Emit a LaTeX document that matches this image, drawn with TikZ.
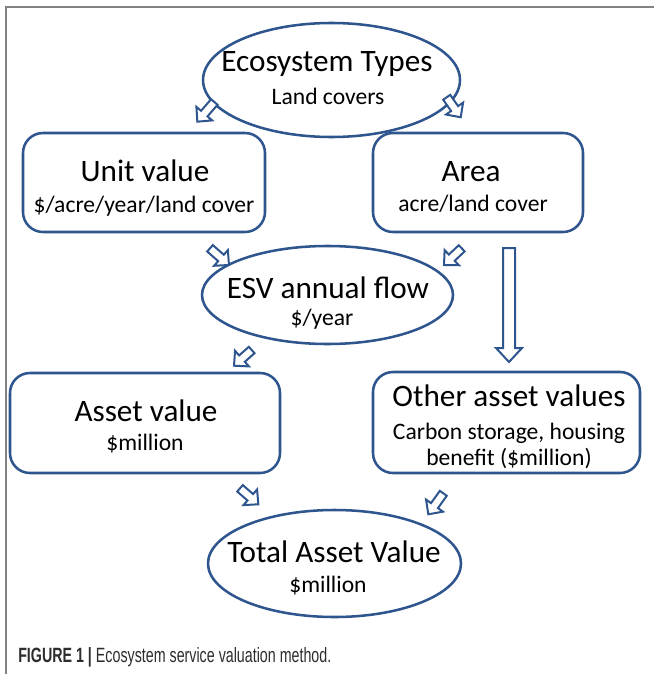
\documentclass[tikz,border=0pt]{standalone}
\usepackage{fontspec}
\setmainfont{Carlito}
\newfontfamily\capfont[FakeStretch=0.69]{Liberation Sans}
\usetikzlibrary{shapes.geometric,calc}
\definecolor{dblue}{RGB}{47,85,143}
\definecolor{framegray}{RGB}{130,130,130}
\definecolor{captxt}{RGB}{45,45,45}
\tikzset{
  shapeline/.style={draw=dblue, line width=1.9pt},
  ell/.style={shapeline, ellipse, inner sep=0pt},
  rbox/.style={shapeline, rectangle, rounded corners=15pt, inner sep=0pt},
  title/.style={anchor=base, font=\fontsize{23.4}{27}\selectfont, inner sep=0pt},
  sub/.style={anchor=base, font=\fontsize{17.7}{21}\selectfont, inner sep=0pt},
  blockarrow/.style={draw=dblue, fill=white, line width=1.5pt, line join=miter},
}
% #1 tail, #2 tip, #3 shaft half width, #4 head half width, #5 head length
\newcommand\blockarr[5]{%
  \path let \p1=($(#2)-(#1)$), \n1={atan2(\y1,\x1)}, \n2={veclen(\x1,\y1)} in
    [blockarrow, shift={(#1)}, rotate=\n1]
    (0pt,-#3) -- (\n2-#5,-#3) -- (\n2-#5,-#4) -- (\n2,0pt) -- (\n2-#5,#4) -- (\n2-#5,#3) -- (0pt,#3) -- cycle;}
\begin{document}
\begin{tikzpicture}[x=0.75pt, y=-0.75pt]
\useasboundingbox (0,0) rectangle (654,674);
% frame
\draw[framegray, line width=1.1pt] (6,674) -- (6,7) -- (654,7);
% shapes
\node[ell, minimum width=192.75pt, minimum height=85.5pt] (eco) at (331.5,80) {};
\node[rbox, minimum width=181.5pt, minimum height=74.25pt] (unit) at (144,182.5) {};
\node[rbox, minimum width=157.5pt, minimum height=74.25pt] (area) at (478,182.5) {};
\node[ell, minimum width=188.25pt, minimum height=73.5pt] (esv) at (327.5,295) {};
\node[rbox, minimum width=202.5pt, minimum height=75pt] (asset) at (145,423) {};
\node[rbox, minimum width=200.25pt, minimum height=75.75pt] (other) at (506.5,422.5) {};
\node[ell, minimum width=189.75pt, minimum height=80.25pt] (total) at (334.5,563.5) {};
% texts
\node[title] (ecoT) at (327,72) {Ecosystem Types};
\node[sub] (ecoS) at (328,104) {Land covers};
\node[title] (unitT) at (145,181) {Unit value};
\node[sub] (unitS) at (144,212) {\$/acre/year/land cover};
\node[title] (areaT) at (471,181) {Area};
\node[sub] (areaS) at (473,211) {acre/land cover};
\node[title] (esvT) at (328,298) {ESV annual flow};
\node[sub] (esvS) at (322,325) {\$/year};
\node[title] (assetT) at (146,421) {Asset value};
\node[sub] (assetS) at (145,450) {\$million};
\node[title] (otherT) at (509,406) {Other asset values};
\node[sub] (otherS1) at (509,439) {Carbon storage, housing};
\node[sub] (otherS2) at (509,465) {benefit (\$million)};
\node[title] (totalT) at (334,562) {Total Asset Value};
\node[sub] (totalS) at (328,592) {\$million};
% block arrows
\coordinate (a1t) at (214.3,102); \coordinate (a1h) at (197.3,121.7);
\coordinate (a2t) at (446.7,97.3); \coordinate (a2h) at (460.7,117.3);
\coordinate (a3t) at (210,248.3); \coordinate (a3h) at (229,265);
\coordinate (a4t) at (461.7,248.3); \coordinate (a4h) at (444,265);
\coordinate (a5t) at (251.7,350); \coordinate (a5h) at (234,365.7);
\coordinate (a6t) at (240,488.3); \coordinate (a6h) at (258.3,504.3);
\coordinate (a7t) at (443.3,493.3); \coordinate (a7h) at (428.3,514.3);
\coordinate (a8t) at (509,248); \coordinate (a8h) at (509,362);
\blockarr{a1t}{a1h}{3.2pt}{7.8pt}{8pt}
\blockarr{a2t}{a2h}{3.2pt}{7.8pt}{8pt}
\blockarr{a3t}{a3h}{3.2pt}{7.8pt}{8pt}
\blockarr{a4t}{a4h}{3.2pt}{7.8pt}{8pt}
\blockarr{a5t}{a5h}{3.2pt}{7.8pt}{8pt}
\blockarr{a6t}{a6h}{3.2pt}{7.8pt}{8pt}
\blockarr{a7t}{a7h}{3.2pt}{7.8pt}{8pt}
\blockarr{a8t}{a8h}{4.5pt}{9.75pt}{10.5pt}
% caption
\node[anchor=base west, inner sep=0pt, text=captxt, font=\capfont\fontsize{15.5}{18}\selectfont] (cap) at (18,662) {\textbf{FIGURE 1 |} Ecosystem service valuation method.};
\end{tikzpicture}
\end{document}
